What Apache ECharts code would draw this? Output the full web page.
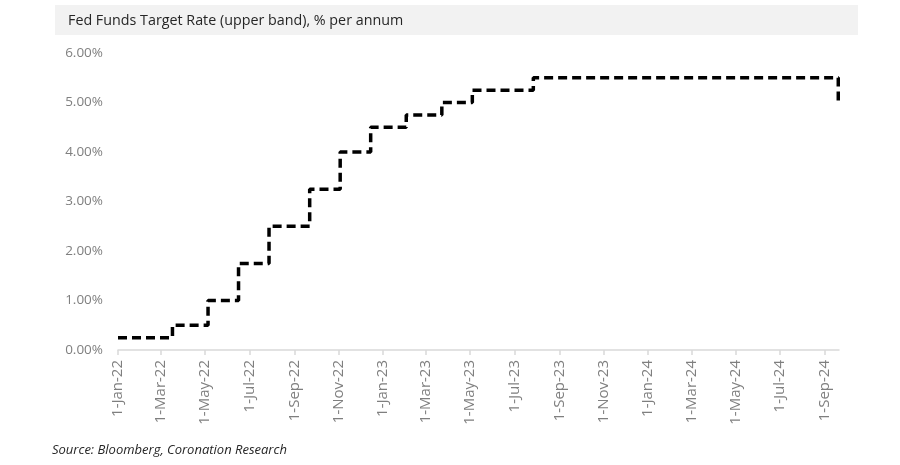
<!DOCTYPE html>
<html>
<head>
<meta charset="utf-8">
<script src="https://cdn.jsdelivr.net/npm/echarts@6/dist/echarts.min.js"></script>
<style>
  html, body { margin: 0; padding: 0; background: #fff; }
  #main { width: 900px; height: 465px; }
</style>
</head>
<body>
<div id="main"></div>
<script>
// fed funds upper band, value from each change date onward
var changeDates = ['2022-01-01', '2022-03-17', '2022-05-05', '2022-06-16', '2022-07-28',
    '2022-09-22', '2022-11-03', '2022-12-15', '2023-02-02', '2023-03-23',
    '2023-05-04', '2023-07-27', '2024-09-19', '2024-09-20'];
var rates = [0.25, 0.50, 1.00, 1.75, 2.50, 3.25, 4.00, 4.50, 4.75, 5.00, 5.25, 5.50, 5.00, 5.00];

var xTickLabels = ['1-Jan-22', '1-Mar-22', '1-May-22', '1-Jul-22', '1-Sep-22', '1-Nov-22',
    '1-Jan-23', '1-Mar-23', '1-May-23', '1-Jul-23', '1-Sep-23', '1-Nov-23',
    '1-Jan-24', '1-Mar-24', '1-May-24', '1-Jul-24', '1-Sep-24'];

var months = { Jan: 0, Feb: 1, Mar: 2, Apr: 3, May: 4, Jun: 5, Jul: 6, Aug: 7, Sep: 8, Oct: 9, Nov: 10, Dec: 11 };

function isoToTs(s) {
    var p = s.split('-');
    return Date.UTC(+p[0], +p[1] - 1, +p[2]);
}
function labelToTs(s) {
    var p = s.split('-');
    return Date.UTC(2000 + +p[2], months[p[1]], +p[0]);
}

var tickTs = xTickLabels.map(labelToTs);
var labelByTs = {};
tickTs.forEach(function(t, i) { labelByTs[t] = xTickLabels[i]; });

var seriesData = changeDates.map(function(d, i) { return [isoToTs(d), rates[i]]; });

var font = '"Open Sans", "Noto Sans", sans-serif';
var myChart = echarts.init(document.getElementById('main'));
var option = {
    animation: false,
    backgroundColor: '#fff',
    textStyle: { fontFamily: font },
    graphic: [{
        type: 'rect',
        shape: { x: 55, y: 5, width: 803, height: 30 },
        style: { fill: '#f2f2f2' },
        silent: true
    }],
    title: [{
        text: 'Fed Funds Target Rate (upper band), % per annum',
        left: 63,
        top: 9,
        textStyle: { fontFamily: font, fontSize: 14.3, fontWeight: 'normal', color: '#262626' }
    }, {
        text: 'Source: Bloomberg, Coronation Research',
        left: 47,
        top: 439,
        textStyle: { fontFamily: font, fontSize: 13, fontWeight: 'normal', fontStyle: 'italic', color: '#262626' }
    }],
    grid: {
        left: 118,
        right: 61,
        top: 53,
        bottom: 115,
        containLabel: false
    },
    xAxis: {
        type: 'value',
        min: isoToTs('2022-01-01'),
        max: isoToTs('2024-09-20'),
        splitLine: { show: false },
        axisLine: { show: true, lineStyle: { color: '#d9d9d9', width: 1.5 } },
        axisTick: {
            show: true,
            customValues: tickTs,
            length: 5,
            lineStyle: { color: '#d9d9d9', width: 1.5 }
        },
        axisLabel: {
            customValues: tickTs,
            rotate: 90,
            margin: 10,
            fontFamily: font,
            fontSize: 15,
            color: '#7f7f7f',
            formatter: function(v) { return labelByTs[v] || ''; }
        }
    },
    yAxis: {
        type: 'value',
        min: 0,
        max: 6,
        interval: 1,
        splitLine: { show: false },
        axisLine: { show: false },
        axisTick: { show: false },
        axisLabel: {
            margin: 15,
            fontFamily: font,
            fontSize: 13.5,
            color: '#7f7f7f',
            formatter: function(v) { return v.toFixed(2) + '%'; }
        }
    },
    series: [{
        name: 'Fed Funds Target Rate',
        type: 'line',
        step: 'end',
        data: seriesData,
        showSymbol: false,
        symbol: 'none',
        lineStyle: { color: '#000', width: 3.5, type: [9, 5], cap: 'butt' }
    }]
};
myChart.setOption(option);
</script>
</body>
</html>
